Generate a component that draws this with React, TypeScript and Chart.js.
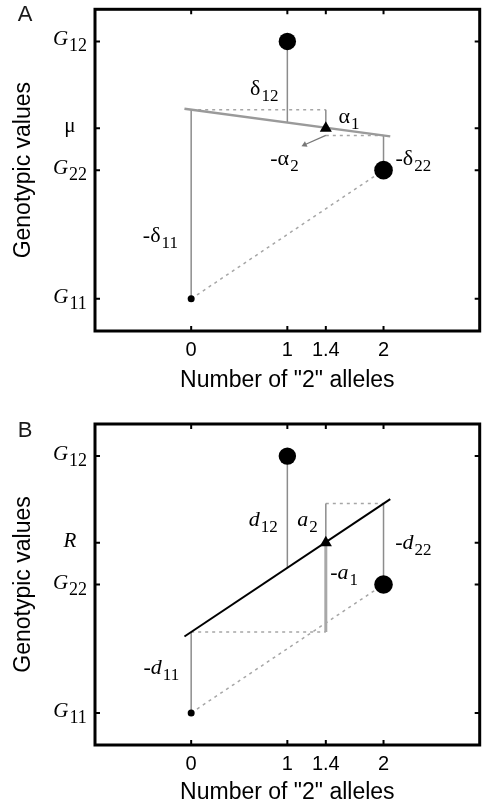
import React, { useEffect, useRef } from 'react';
import { Chart, registerables } from 'chart.js';

Chart.register(...registerables);

const SANS = '"Liberation Sans", Arial, Helvetica, sans-serif';
const SERIF = '"Liberation Serif", "Times New Roman", serif';

// ---------- axes ----------
const X_MIN = -1;
const X_MAX = 3;
const Y_MIN = 0;
const Y_MAX = 10;
const xTickValues = [0, 1, 1.4, 2];
const xTickLabels = ['0', '1', '1.4', '2'];
const yTickValues = [1, 5, 6.3, 9];
const xTitle = 'Number of "2" alleles';
const yTitle = 'Genotypic values';

// y tick labels, panel A and B
const yTickMainA = ['G', 'G', 'μ', 'G'];
const yTickSubA = ['11', '22', '', '12'];
const yTickItalicA = [true, true, false, true];
const yTickMainB = ['G', 'G', 'R', 'G'];
const yTickSubB = ['11', '22', '', '12'];
const yTickItalicB = [true, true, true, true];

// ---------- genotypes (0, 1, 2 copies of allele "2") ----------
const genotypeX = [0, 1, 2];
const genotypeY = [1, 9, 5];
const genotypeRadius = [3.5, 8.7, 9.3];
const meanX = 1.4;
const meanY = 6.3;

// ---------- panel A segments ----------
const regAX = [-0.07, 2.07];
const regAY = [6.91, 6.05];
const dotUpperAX = [0, 1.4];
const dotUpperAY = [6.88, 6.88];
const dotLowerAX = [1.4, 2];
const dotLowerAY = [6.08, 6.08];
const alpha1AX = [1.4, 1.4];
const alpha1AY = [6.88, 6.4];
const alpha2ArrowX = [1.4, 1.18];
const alpha2ArrowY = [6.08, 5.79];
const stem12AX = [1, 1];
const stem12AY = [9, 6.48];
const stem22AX = [2, 2];
const stem22AY = [6.08, 5];
const stem11AX = [0, 0];
const stem11AY = [6.88, 1];
const diagX = [0, 2];
const diagY = [1, 5];

// ---------- panel B segments ----------
const regBX = [-0.07, 2.07];
const regBY = [3.38, 7.66];
const dotUpperBX = [1.4, 2];
const dotUpperBY = [7.52, 7.52];
const dotLowerBX = [0, 1.4];
const dotLowerBY = [3.52, 3.52];
const a2BX = [1.4, 1.4];
const a2BY = [7.52, 6.3];
const a1BX = [1.4, 1.4];
const a1BY = [6.3, 3.52];
const stem12BX = [1, 1];
const stem12BY = [9, 5.52];
const stem22BX = [2, 2];
const stem22BY = [7.52, 5];
const stem11BX = [0, 0];
const stem11BY = [3.52, 1];

// ---------- annotation labels ----------
const annoAText = ['δ', 'α', '-α', '-δ', '-δ'];
const annoASub = ['12', '1', '2', '22', '11'];
const annoAX = [0.76, 1.64, 0.97, 2.31, -0.32];
const annoAY = [7.46, 6.59, 5.29, 5.29, 2.88];

const annoBText = ['d', 'a', '-a', '-d', '-d'];
const annoBSub = ['12', '2', '1', '22', '11'];
const annoBX = [0.75, 1.21, 1.59, 2.31, -0.31];
const annoBY = [6.95, 6.95, 5.3, 6.23, 2.34];

const GRAY_LINE = '#8c8c8c';
const GRAY_DOT = '#a6a6a6';

function pts(xs: number[], ys: number[]) {
  return xs.map((x, i) => ({ x, y: ys[i] }));
}

function seg(xs: number[], ys: number[], color: string, width: number, dash: number[] = []) {
  return {
    type: 'scatter' as const,
    data: pts(xs, ys),
    showLine: true,
    borderColor: color,
    backgroundColor: color,
    borderWidth: width,
    borderDash: dash,
    pointRadius: 0,
    tension: 0,
    fill: false,
    order: 2,
  };
}

function drawSubText(
  ctx: CanvasRenderingContext2D,
  cx: number,
  baseline: number,
  main: string,
  sub: string,
  mainFont: string,
  subFont: string,
  subShift: number
) {
  ctx.font = mainFont;
  const wm = ctx.measureText(main).width;
  ctx.font = subFont;
  const ws = sub ? ctx.measureText(sub).width : 0;
  const gap = sub ? 1 : 0;
  const x0 = cx - (wm + gap + ws) / 2;
  ctx.textAlign = 'left';
  ctx.textBaseline = 'alphabetic';
  ctx.fillStyle = '#000';
  ctx.font = mainFont;
  ctx.fillText(main, x0, baseline);
  if (sub) {
    ctx.font = subFont;
    ctx.fillText(sub, x0 + wm + gap, baseline + subShift);
  }
}

interface PanelCfg {
  letter: string;
  letterY: number;
  xTitleY: number;
  yMain: string[];
  ySub: string[];
  yItalic: boolean[];
  annoText: string[];
  annoSub: string[];
  annoX: number[];
  annoY: number[];
  annoItalic: boolean;
}

function decorPlugin(cfg: PanelCfg) {
  return {
    id: 'decor' + cfg.letter,
    afterDatasetsDraw(chart: any) {
      const ctx: CanvasRenderingContext2D = chart.ctx;
      const { left, right, top, bottom } = chart.chartArea;
      const xs = chart.scales.x;
      const ys = chart.scales.y;
      ctx.save();
      ctx.strokeStyle = '#000';
      ctx.lineWidth = 3;
      ctx.strokeRect(left, top, right - left, bottom - top);
      ctx.lineWidth = 2;
      ctx.beginPath();
      xTickValues.forEach((v) => {
        const px = xs.getPixelForValue(v);
        ctx.moveTo(px, bottom);
        ctx.lineTo(px, bottom - 5);
        ctx.moveTo(px, top);
        ctx.lineTo(px, top + 5);
      });
      yTickValues.forEach((v) => {
        const py = ys.getPixelForValue(v);
        ctx.moveTo(left, py);
        ctx.lineTo(left + 5, py);
        ctx.moveTo(right, py);
        ctx.lineTo(right - 5, py);
      });
      ctx.stroke();
      ctx.restore();
    },
    afterDraw(chart: any) {
      const ctx: CanvasRenderingContext2D = chart.ctx;
      const { left, right, top, bottom } = chart.chartArea;
      const xs = chart.scales.x;
      const ys = chart.scales.y;
      ctx.save();
      // y tick labels with subscripts
      yTickValues.forEach((v, i) => {
        const py = ys.getPixelForValue(v);
        const mf = (cfg.yItalic[i] ? 'italic ' : '') + '21px ' + SERIF;
        const sf = '18px ' + SERIF;
        drawSubText(ctx, 70, py + 4, cfg.yMain[i], cfg.ySub[i], mf, sf, 6);
      });
      // annotations
      cfg.annoText.forEach((t, i) => {
        const px = xs.getPixelForValue(cfg.annoX[i]);
        const py = ys.getPixelForValue(cfg.annoY[i]);
        const mf = (cfg.annoItalic ? 'italic ' : '') + '22px ' + SERIF;
        const sf = '17px ' + SERIF;
        drawSubText(ctx, px, py + 4, t, cfg.annoSub[i], mf, sf, 6);
      });
      // panel letter
      ctx.fillStyle = '#1a1a1a';
      ctx.font = '22px ' + SANS;
      ctx.textAlign = 'center';
      ctx.textBaseline = 'middle';
      ctx.fillText(cfg.letter, 25, cfg.letterY);
      // axis titles
      ctx.fillStyle = '#000';
      ctx.font = '23px ' + SANS;
      ctx.fillText(xTitle, (left + right) / 2, cfg.xTitleY);
      ctx.translate(24, (top + bottom) / 2);
      ctx.rotate(-Math.PI / 2);
      ctx.fillText(yTitle, 0, 0);
      ctx.restore();
    },
  };
}

interface PanelProps {
  height: number;
  areaTop: number;
  areaBottom: number;
  cfg: PanelCfg;
  datasets: any[];
}

function Panel({ height, areaTop, areaBottom, cfg, datasets }: PanelProps) {
  const ref = useRef<HTMLCanvasElement | null>(null);
  useEffect(() => {
    if (!ref.current) return;
    const chart = new Chart(ref.current, {
      type: 'scatter',
      data: { datasets },
      options: {
        animation: false,
        responsive: false,
        maintainAspectRatio: false,
        events: [],
        layout: { padding: { top: areaTop, right: 4, left: 0, bottom: 0 } },
        plugins: { legend: { display: false }, tooltip: { enabled: false } },
        scales: {
          x: {
            type: 'linear',
            min: X_MIN,
            max: X_MAX,
            grid: { display: false, drawTicks: false },
            border: { display: false },
            afterBuildTicks: (scale: any) => {
              scale.ticks = xTickValues.map((v) => ({ value: v }));
            },
            afterFit: (scale: any) => {
              scale.height = height - areaBottom;
            },
            ticks: {
              autoSkip: false,
              maxRotation: 0,
              padding: 7,
              color: '#000',
              font: { family: SANS, size: 20 },
              callback: (_v: any, i: number) => xTickLabels[i],
            },
          },
          y: {
            type: 'linear',
            min: Y_MIN,
            max: Y_MAX,
            grid: { display: false, drawTicks: false },
            border: { display: false },
            afterBuildTicks: (scale: any) => {
              scale.ticks = yTickValues.map((v) => ({ value: v }));
            },
            afterFit: (scale: any) => {
              scale.width = 95;
            },
            ticks: { display: false },
          },
        },
      },
      plugins: [decorPlugin(cfg)],
    } as any);
    return () => chart.destroy();
  }, []);
  return <canvas ref={ref} width={489} height={height} style={{ display: 'block', width: 489, height }} />;
}

const genotypeDataset = {
  type: 'scatter' as const,
  data: pts(genotypeX, genotypeY),
  pointRadius: genotypeRadius,
  pointBackgroundColor: '#000',
  pointBorderColor: '#000',
  pointBorderWidth: 0,
  showLine: false,
  order: 0,
};

const meanDataset = {
  type: 'scatter' as const,
  data: [{ x: meanX, y: meanY }],
  pointStyle: 'triangle',
  pointRadius: 7,
  pointBackgroundColor: '#000',
  pointBorderColor: '#000',
  pointBorderWidth: 0,
  showLine: false,
  order: 0,
};

const datasetsA = [
  genotypeDataset,
  meanDataset,
  {
    type: 'scatter' as const,
    data: [{ x: alpha2ArrowX[1], y: alpha2ArrowY[1] }],
    pointStyle: 'triangle',
    pointRadius: 3.5,
    pointRotation: 245,
    pointBackgroundColor: '#777',
    pointBorderColor: '#777',
    pointBorderWidth: 0,
    showLine: false,
    order: 1,
  },
  seg(regAX, regAY, '#9a9a9a', 2.5),
  seg(alpha1AX, alpha1AY, GRAY_LINE, 1.5),
  seg(alpha2ArrowX, alpha2ArrowY, '#777', 1.3),
  seg(stem12AX, stem12AY, GRAY_LINE, 1.5),
  seg(stem22AX, stem22AY, GRAY_LINE, 1.5),
  seg(stem11AX, stem11AY, GRAY_LINE, 1.5),
  seg(dotUpperAX, dotUpperAY, GRAY_DOT, 1.5, [3, 4]),
  seg(dotLowerAX, dotLowerAY, GRAY_DOT, 1.5, [3, 4]),
  seg(diagX, diagY, GRAY_DOT, 1.5, [3, 4]),
];

const datasetsB = [
  genotypeDataset,
  meanDataset,
  { ...seg(regBX, regBY, '#000', 2), order: 1 },
  seg(a2BX, a2BY, GRAY_LINE, 1.5),
  seg(a1BX, a1BY, '#a8a8a8', 3),
  seg(stem12BX, stem12BY, GRAY_LINE, 1.5),
  seg(stem22BX, stem22BY, GRAY_LINE, 1.5),
  seg(stem11BX, stem11BY, GRAY_LINE, 1.5),
  seg(dotUpperBX, dotUpperBY, GRAY_DOT, 1.5, [3, 4]),
  seg(dotLowerBX, dotLowerBY, GRAY_DOT, 1.5, [3, 4]),
  seg(diagX, diagY, GRAY_DOT, 1.5, [3, 4]),
];

const cfgA: PanelCfg = {
  letter: 'A',
  letterY: 15,
  xTitleY: 381,
  yMain: yTickMainA,
  ySub: yTickSubA,
  yItalic: yTickItalicA,
  annoText: annoAText,
  annoSub: annoASub,
  annoX: annoAX,
  annoY: annoAY,
  annoItalic: false,
};

const cfgB: PanelCfg = {
  letter: 'B',
  letterY: 31,
  xTitleY: 393,
  yMain: yTickMainB,
  ySub: yTickSubB,
  yItalic: yTickItalicB,
  annoText: annoBText,
  annoSub: annoBSub,
  annoX: annoBX,
  annoY: annoBY,
  annoItalic: true,
};

export default function App() {
  return (
    <div style={{ position: 'absolute', left: 0, top: 0, width: 489, height: 809, background: '#fff' }}>
      <Panel height={400} areaTop={8} areaBottom={331} cfg={cfgA} datasets={datasetsA} />
      <Panel height={409} areaTop={24} areaBottom={345} cfg={cfgB} datasets={datasetsB} />
    </div>
  );
}
